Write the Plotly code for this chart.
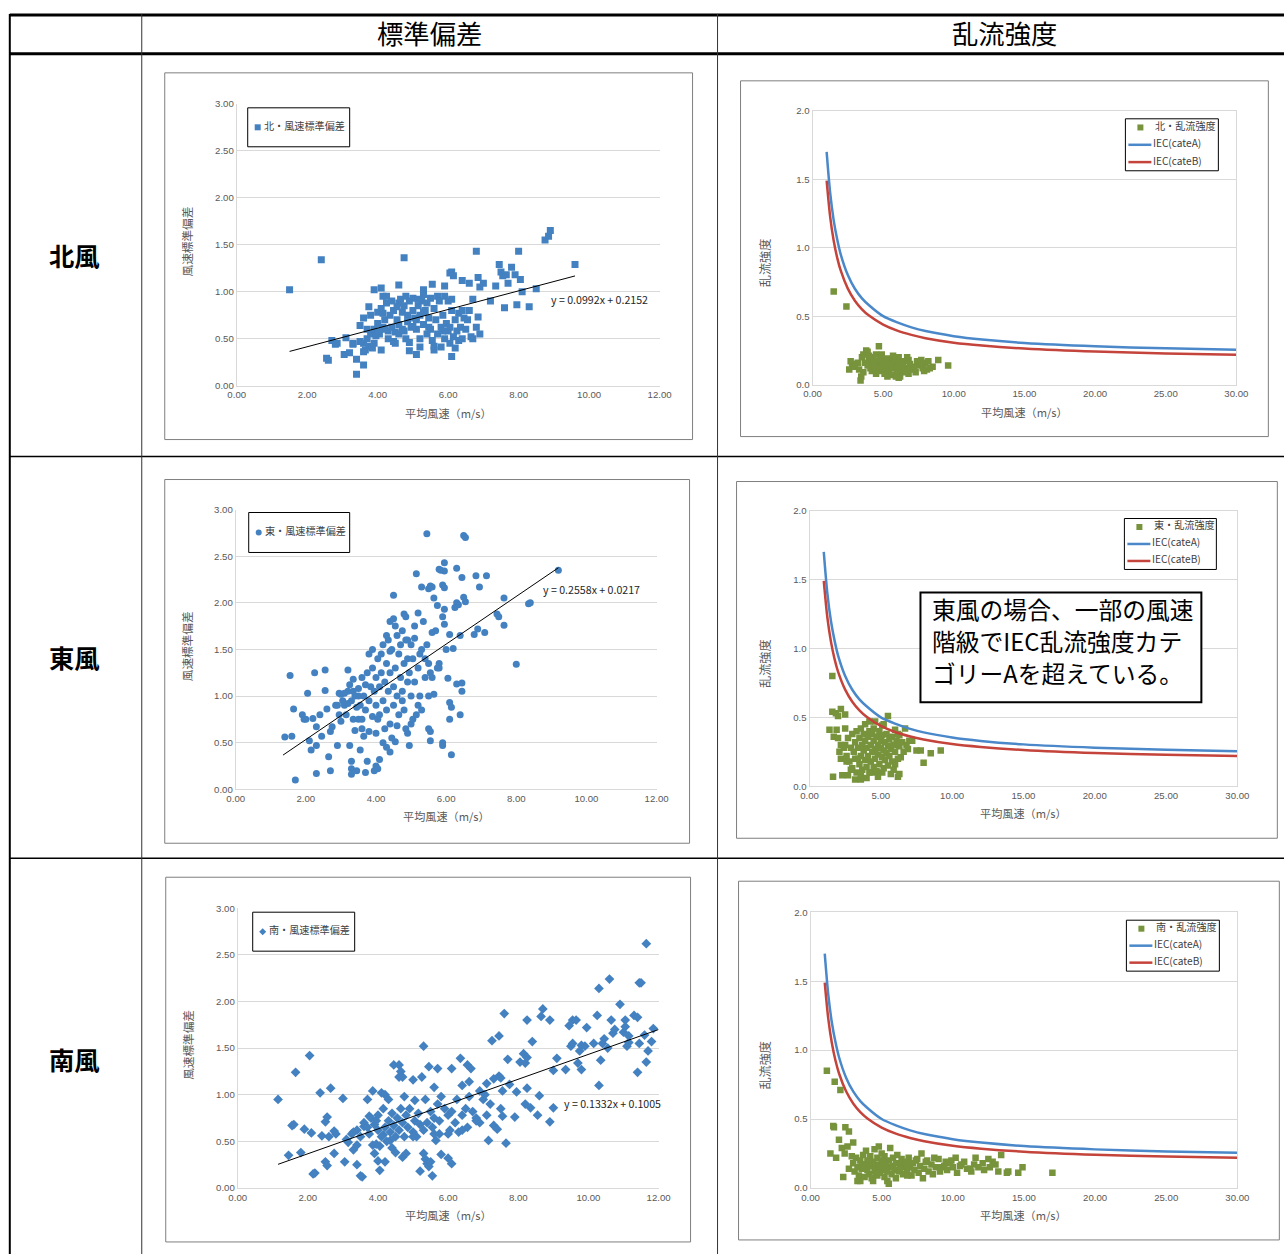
import plotly.graph_objects as go

W, H = 1284, 1254
FONT = "Noto Sans CJK JP"

# ---------------- data ----------------
headers = ["標準偏差", "乱流強度"]
row_labels = ["北風", "東風", "南風"]
sd_names = ["北・風速標準偏差", "東・風速標準偏差", "南・風速標準偏差"]
ti_names = ["北・乱流強度", "東・乱流強度", "南・乱流強度"]
iec_names = ["IEC(cateA)", "IEC(cateB)"]
x_title = "平均風速（m/s）"
sd_ytitle = "風速標準偏差"
ti_ytitle = "乱流強度"

trend_slope = [0.0992, 0.2558, 0.1332]
trend_icpt = [0.2152, 0.0217, 0.1005]
trend_x = [[1.5, 9.6], [1.35, 9.2], [1.15, 12.0]]
trend_text = ["y = 0.0992x + 0.2152", "y = 0.2558x + 0.0217", "y = 0.1332x + 0.1005"]

note_lines = ["東風の場合、一部の風速", "階級でIEC乱流強度カテ", "ゴリーAを超えている。"]

north_sd = [
    [1.5, 1.02], [2.4, 1.34], [2.55, 0.29], [2.6, 0.27], [2.7, 0.48], [2.8, 0.44], [2.85, 0.45],
    [3.1, 0.51], [3.05, 0.33], [3.2, 0.35], [3.3, 0.44], [3.4, 0.12], [3.4, 0.28], [3.5, 0.64],
    [3.6, 0.22], [3.6, 0.72], [3.75, 0.84], [3.8, 0.75], [3.9, 1.02], [4.1, 1.04], [4.15, 0.95],
    [4.6, 1.07], [4.75, 1.36], [5.3, 1.02], [5.55, 1.08], [5.9, 1.06], [6.05, 1.2], [6.1, 1.21],
    [6.15, 1.17], [6.4, 1.12], [6.6, 1.09], [6.8, 1.43], [6.85, 1.15], [6.9, 1.05], [7.0, 1.09],
    [7.2, 0.9], [7.35, 1.06], [7.45, 1.29], [7.5, 1.21], [7.55, 1.17], [7.65, 1.18], [7.7, 1.09],
    [7.8, 1.26], [7.9, 1.18], [7.95, 0.86], [8.0, 1.43], [8.05, 1.13], [8.1, 1.0], [8.3, 0.84],
    [8.5, 1.03], [8.75, 1.55], [8.85, 1.59], [8.9, 1.65], [9.6, 1.29], [7.6, 0.83], [6.9, 0.55],
    [6.8, 0.62], [6.85, 0.73], [5.1, 0.33], [4.9, 0.37], [6.1, 0.31], [5.6, 0.38], [5.8, 0.41],
    [5.2, 0.41], [3.6, 0.45], [3.7, 0.5], [3.65, 0.38], [3.75, 0.42], [3.8, 0.55], [3.85, 0.4],
    [3.9, 0.6], [3.95, 0.53], [4.0, 0.66], [4.0, 0.78], [4.05, 0.55], [4.1, 0.82], [4.15, 0.62],
    [4.2, 0.7], [4.25, 0.88], [4.3, 0.58], [4.35, 0.75], [4.4, 0.9], [4.4, 0.62], [4.45, 0.8],
    [4.5, 0.57], [4.5, 0.45], [4.55, 0.7], [4.6, 0.88], [4.6, 0.55], [4.65, 0.92], [4.7, 0.78],
    [4.7, 0.6], [4.75, 0.85], [4.8, 0.5], [4.8, 0.95], [4.85, 0.68], [4.9, 0.9], [4.95, 0.62],
    [5.0, 0.8], [5.0, 0.93], [5.05, 0.72], [5.1, 0.6], [5.15, 0.85], [5.2, 0.75], [5.2, 0.5],
    [5.25, 0.9], [5.3, 0.97], [5.3, 0.65], [5.35, 0.8], [5.4, 0.55], [5.4, 0.88], [5.45, 0.72],
    [5.5, 0.93], [5.5, 0.6], [5.55, 0.48], [5.6, 0.82], [5.65, 0.7], [5.7, 0.95], [5.7, 0.55],
    [5.75, 0.9], [5.8, 0.62], [5.85, 0.75], [5.9, 0.95], [5.9, 0.5], [5.95, 0.66], [6.0, 0.9],
    [6.0, 0.58], [6.05, 0.45], [6.1, 0.92], [6.1, 0.8], [6.15, 0.52], [6.2, 0.7], [6.2, 0.4],
    [6.25, 0.58], [6.3, 0.48], [6.35, 0.62], [6.4, 0.8], [6.4, 0.5], [6.45, 0.72], [6.5, 0.6],
    [6.55, 0.7], [6.6, 0.8], [6.65, 0.52], [6.7, 0.92], [6.7, 0.5], [4.2, 0.6], [4.3, 0.5],
    [3.9, 0.45], [4.1, 0.38], [4.45, 0.47], [4.9, 0.46], [5.6, 0.42], [4.0, 0.58], [4.6, 0.65],
    [5.1, 0.7], [5.3, 0.78], [4.25, 0.95], [3.7, 0.6], [3.5, 0.47], [3.3, 0.45], [3.6, 0.36],
    [4.75, 0.58], [5.0, 0.63], [5.45, 0.62], [6.05, 0.62], [5.85, 0.58], [6.3, 0.77], [4.85, 0.75],
    [4.15, 0.77], [4.55, 0.84], [5.15, 0.92],
]

east_sd = [
    [1.55, 1.22], [1.4, 0.56], [1.6, 0.57], [1.65, 0.86], [1.7, 0.1], [1.9, 0.8], [1.95, 0.75],
    [2.05, 1.03], [2.0, 0.75], [2.1, 0.52], [2.15, 0.42], [2.2, 0.76], [2.25, 1.25], [2.3, 0.47],
    [2.3, 0.17], [2.3, 0.67], [2.4, 0.8], [2.45, 0.57], [2.55, 1.28], [2.55, 1.06], [2.6, 0.86],
    [2.65, 0.35], [2.7, 0.62], [2.7, 0.2], [2.75, 0.67], [2.85, 0.9], [2.9, 0.47], [2.95, 0.8],
    [3.0, 1.02], [3.0, 0.73], [3.1, 0.9], [3.2, 1.28], [3.25, 0.47], [3.3, 0.3], [3.3, 0.22],
    [3.3, 0.16], [3.35, 1.18], [3.4, 0.63], [3.45, 0.2], [3.5, 0.75], [3.55, 0.42], [3.6, 0.65],
    [3.65, 0.57], [3.7, 0.18], [3.75, 0.3], [3.8, 1.45], [3.9, 1.5], [3.95, 0.2], [4.0, 0.25],
    [4.05, 0.22], [4.1, 0.32], [4.2, 0.5], [4.3, 0.45], [4.4, 0.4], [4.5, 2.08], [4.55, 0.51],
    [4.4, 1.8], [4.5, 1.83], [4.8, 1.88], [4.85, 1.85], [4.9, 0.6], [4.95, 0.47], [5.0, 0.7],
    [5.15, 2.31], [5.2, 1.89], [5.3, 2.17], [5.45, 2.74], [5.5, 2.15], [5.55, 2.18], [5.6, 2.17],
    [5.65, 2.05], [5.75, 1.97], [5.8, 2.36], [5.85, 2.35], [5.9, 2.19], [5.95, 2.34], [5.95, 2.16],
    [5.95, 2.43], [5.9, 1.85], [5.95, 1.93], [5.95, 1.77], [6.0, 1.5], [6.05, 1.19], [6.1, 1.66],
    [6.2, 1.51], [6.3, 2.37], [6.25, 1.95], [6.3, 2.0], [6.35, 1.98], [6.4, 1.65], [6.45, 2.27],
    [6.5, 2.72], [6.55, 2.7], [6.5, 2.06], [6.55, 2.01], [6.3, 1.13], [6.45, 1.14], [6.45, 1.05],
    [6.4, 0.8], [6.1, 0.93], [6.15, 0.88], [6.1, 0.75], [6.15, 0.37], [5.9, 0.5], [5.9, 0.47],
    [5.55, 0.52], [5.5, 0.65], [5.55, 0.62], [6.85, 2.29], [6.8, 1.66], [6.9, 1.72], [6.95, 2.17],
    [7.1, 1.68], [7.15, 2.29], [7.45, 1.88], [7.5, 1.85], [7.65, 2.05], [7.65, 1.76], [8.0, 1.34],
    [8.35, 1.99], [8.4, 2.0], [9.2, 2.35],
    [3.2, 1.05], [3.3, 0.95], [3.4, 1.0], [3.5, 1.08], [3.55, 0.9], [3.6, 1.2], [3.65, 1.0],
    [3.7, 1.12], [3.7, 0.85], [3.75, 1.25], [3.8, 0.95], [3.85, 1.1], [3.9, 0.78], [3.9, 1.3],
    [3.95, 1.05], [4.0, 1.2], [4.0, 0.9], [4.05, 1.4], [4.1, 1.1], [4.1, 0.8], [4.15, 1.25],
    [4.2, 1.55], [4.2, 0.95], [4.25, 1.15], [4.3, 1.35], [4.3, 0.85], [4.35, 1.6], [4.35, 1.05],
    [4.4, 1.25], [4.4, 0.7], [4.45, 1.5], [4.5, 1.1], [4.5, 0.9], [4.55, 1.3], [4.6, 1.65],
    [4.6, 1.0], [4.65, 1.45], [4.65, 0.8], [4.7, 1.2], [4.7, 1.55], [4.75, 1.05], [4.75, 1.7],
    [4.8, 1.35], [4.8, 0.85], [4.85, 1.6], [4.9, 1.15], [4.9, 1.4], [4.95, 1.25], [5.0, 1.55],
    [5.0, 1.0], [5.05, 1.4], [5.1, 1.15], [5.1, 1.75], [5.15, 0.8], [5.2, 1.3], [5.25, 1.0],
    [5.3, 1.5], [5.3, 0.85], [5.35, 1.8], [5.4, 1.2], [5.45, 1.55], [5.5, 1.35], [5.5, 1.0],
    [5.55, 1.25], [5.6, 1.68], [5.65, 1.02], [5.7, 1.7], [5.8, 1.35], [5.8, 1.3], [3.2, 0.92],
    [3.35, 1.05], [3.45, 0.88], [3.6, 0.75], [3.8, 0.62], [4.0, 0.6], [4.05, 0.75], [4.25, 0.65],
    [4.45, 0.55], [4.6, 0.68], [4.75, 0.95], [4.85, 0.65], [5.05, 0.75], [5.2, 0.9], [3.1, 1.03],
    [2.95, 1.03], [3.05, 0.95], [2.9, 0.9], [3.15, 0.8], [3.35, 0.75], [3.25, 1.12], [3.5, 1.0],
    [4.15, 1.45], [4.3, 1.65], [4.55, 1.75], [4.4, 1.48], [4.9, 1.6], [5.1, 1.62], [5.25, 1.45],
    [5.4, 1.4], [5.6, 1.2], [5.75, 1.3],
]

south_sd = [
    [1.15, 0.95], [1.45, 0.35], [1.55, 0.67], [1.6, 0.68], [1.65, 1.24], [1.8, 0.38], [1.9, 0.63],
    [2.05, 1.42], [2.1, 0.59], [2.15, 0.15], [2.2, 0.16], [2.35, 1.02], [2.4, 0.56], [2.5, 0.71],
    [2.55, 0.76], [2.5, 0.28], [2.55, 0.24], [2.6, 0.55], [2.65, 1.07], [2.75, 0.61], [2.8, 0.58],
    [2.75, 0.37], [3.0, 0.96], [3.05, 0.28], [3.1, 0.52], [3.15, 0.49], [3.25, 0.58], [3.3, 0.41],
    [3.4, 0.62], [3.4, 0.46], [3.4, 0.25], [3.5, 0.13], [3.55, 0.12], [3.6, 0.66], [3.7, 0.95],
    [3.75, 0.77], [3.85, 1.04], [3.85, 0.46], [3.9, 0.37], [3.95, 0.47], [4.0, 0.29], [4.05, 0.19],
    [4.1, 1.02], [4.15, 0.57], [4.2, 1.0], [4.2, 0.28], [4.3, 0.95], [4.35, 0.51], [4.45, 1.32],
    [4.5, 0.38], [4.6, 1.19], [4.6, 1.32], [4.65, 1.25], [4.7, 1.19], [4.7, 0.33], [4.75, 0.98],
    [4.8, 0.37], [5.0, 1.16], [5.05, 0.94], [5.2, 0.18], [5.25, 1.19], [5.3, 0.37], [5.3, 1.52],
    [5.35, 0.31], [5.4, 0.26], [5.45, 1.3], [5.45, 0.23], [5.5, 0.28], [5.55, 0.13], [5.6, 1.08],
    [5.65, 0.51], [5.7, 1.28], [5.75, 0.58], [5.8, 0.36], [6.0, 0.32], [6.1, 1.28], [6.1, 0.26],
    [6.35, 1.39], [6.4, 1.1], [6.55, 1.32], [6.6, 1.14], [6.65, 1.28], [6.9, 1.04], [7.1, 1.12],
    [7.15, 0.51], [7.25, 1.58], [7.3, 1.17], [7.45, 1.63], [7.45, 1.2], [7.5, 1.18], [7.55, 1.04],
    [7.55, 0.77], [7.6, 1.87], [7.65, 0.48], [7.7, 1.38], [7.75, 1.11], [7.95, 1.03], [7.9, 0.76],
    [8.05, 1.35], [8.15, 1.44], [8.2, 1.34], [8.25, 1.4], [8.25, 1.8], [8.2, 0.9], [8.25, 1.07],
    [8.35, 0.86], [8.4, 1.57], [8.55, 0.78], [8.6, 0.99], [8.65, 1.84], [8.7, 1.92], [8.9, 1.8],
    [8.9, 0.71], [9.0, 0.86], [9.0, 1.26], [9.1, 1.39], [9.35, 1.27], [9.45, 1.74], [9.5, 1.52],
    [9.55, 1.55], [9.55, 1.8], [9.65, 1.8], [9.7, 1.34], [9.75, 1.47], [9.8, 1.27], [9.8, 1.53],
    [9.9, 1.52], [9.95, 1.72], [10.15, 1.55], [10.25, 1.85], [10.3, 2.14], [10.3, 1.1], [10.35, 1.37],
    [10.4, 1.55], [10.45, 1.6], [10.55, 1.5], [10.6, 2.24], [10.65, 1.8], [10.7, 1.66], [10.75, 1.7],
    [10.9, 1.97], [11.0, 1.67], [11.05, 1.73], [11.05, 1.8], [11.1, 1.52], [11.15, 1.56], [11.15, 1.63],
    [11.3, 1.85], [11.4, 1.83], [11.4, 1.24], [11.45, 2.2], [11.45, 1.55], [11.5, 2.2], [11.6, 1.64],
    [11.65, 2.62], [11.7, 1.47], [11.65, 1.35], [11.8, 1.57], [11.85, 1.71],
    [3.6, 0.7], [3.7, 0.65], [3.8, 0.75], [3.9, 0.68], [3.95, 0.72], [4.0, 0.62], [4.0, 0.78],
    [4.1, 0.55], [4.15, 0.85], [4.2, 0.65], [4.25, 0.5], [4.3, 0.72], [4.35, 0.6], [4.4, 0.8],
    [4.45, 0.67], [4.5, 0.55], [4.55, 0.75], [4.6, 0.62], [4.65, 0.85], [4.7, 0.7], [4.75, 0.55],
    [4.8, 0.78], [4.85, 0.65], [4.9, 0.85], [5.0, 0.6], [5.05, 0.72], [5.1, 0.55], [5.15, 0.8],
    [5.2, 0.68], [5.3, 0.62], [5.35, 0.95], [5.4, 0.7], [5.5, 0.82], [5.55, 0.65], [5.6, 0.75],
    [5.7, 0.9], [5.75, 0.72], [5.8, 0.98], [5.9, 0.85], [6.0, 0.78], [6.05, 0.62], [6.1, 0.82],
    [6.2, 0.7], [6.25, 0.95], [6.3, 0.6], [6.4, 0.78], [6.5, 0.85], [6.55, 0.65], [6.6, 0.98],
    [6.7, 0.82], [6.8, 0.75], [6.9, 0.7], [7.0, 0.95], [7.05, 1.0], [7.1, 0.78], [7.2, 0.9],
    [7.3, 0.67], [7.4, 0.63], [7.5, 0.85], [3.3, 0.6], [3.5, 0.55], [3.75, 0.58], [4.05, 0.45],
    [4.4, 0.43], [5.0, 0.55], [5.6, 0.58], [6.0, 0.58], [6.4, 0.62], [6.8, 0.72],
]

north_ti = [
    [1.5, 0.68], [2.4, 0.57], [2.6, 0.11], [2.7, 0.17], [2.8, 0.15], [3.0, 0.13], [3.2, 0.16],
    [3.4, 0.03], [3.5, 0.2], [3.6, 0.22], [3.8, 0.25], [3.9, 0.24], [4.0, 0.18], [4.1, 0.12],
    [4.2, 0.15], [4.3, 0.2], [4.4, 0.13], [4.5, 0.22], [4.6, 0.16], [4.7, 0.28], [4.8, 0.1],
    [4.9, 0.14], [5.0, 0.18], [5.1, 0.08], [5.2, 0.13], [5.3, 0.19], [5.4, 0.1], [5.5, 0.16],
    [5.6, 0.07], [5.7, 0.19], [5.8, 0.12], [5.9, 0.15], [6.0, 0.09], [6.1, 0.2], [6.2, 0.06],
    [6.3, 0.14], [6.4, 0.1], [6.5, 0.17], [6.6, 0.12], [6.7, 0.2], [6.8, 0.08], [6.9, 0.15],
    [7.0, 0.11], [7.2, 0.13], [7.4, 0.17], [7.6, 0.14], [7.8, 0.12], [8.0, 0.16], [8.1, 0.11],
    [8.3, 0.12], [8.5, 0.13], [8.9, 0.18], [9.6, 0.14], [3.7, 0.16], [3.9, 0.14], [4.0, 0.21],
    [4.2, 0.1], [4.4, 0.17], [4.6, 0.12], [4.8, 0.19], [5.0, 0.12], [5.2, 0.17], [5.4, 0.14],
    [5.6, 0.12], [5.8, 0.16], [6.0, 0.13], [6.2, 0.16], [6.4, 0.13], [6.6, 0.09], [3.3, 0.11],
    [3.6, 0.09], [4.5, 0.08], [5.3, 0.06], [6.1, 0.05], [5.9, 0.06], [4.3, 0.13], [4.9, 0.22],
    [5.7, 0.21], [6.8, 0.18], [7.3, 0.09], [7.7, 0.18], [3.45, 0.06], [7.9, 0.1], [8.2, 0.17],
]

east_ti = [
    [1.6, 0.8], [1.6, 0.54], [1.85, 0.53], [2.0, 0.51], [2.2, 0.56], [2.5, 0.52], [2.5, 0.42],
    [1.4, 0.41], [1.9, 0.41], [1.7, 0.36], [2.1, 0.25], [2.2, 0.2], [1.65, 0.07], [2.3, 0.08],
    [2.7, 0.08], [3.2, 0.05], [3.6, 0.05], [4.0, 0.06], [4.6, 0.47], [5.5, 0.51], [5.2, 0.45],
    [6.7, 0.42], [7.2, 0.33], [7.5, 0.26], [7.8, 0.26], [8.0, 0.17], [8.5, 0.24], [9.2, 0.26],
    [6.2, 0.07], [5.1, 0.1], [4.4, 0.1], [6.0, 0.16], [6.4, 0.21],
    [2.5, 0.3], [2.6, 0.22], [2.7, 0.35], [2.8, 0.18], [2.9, 0.28], [3.0, 0.38], [3.0, 0.13],
    [3.1, 0.25], [3.2, 0.32], [3.2, 0.2], [3.3, 0.4], [3.3, 0.1], [3.4, 0.28], [3.5, 0.35],
    [3.5, 0.16], [3.6, 0.22], [3.6, 0.42], [3.7, 0.3], [3.7, 0.12], [3.8, 0.26], [3.8, 0.38],
    [3.9, 0.19], [3.9, 0.33], [4.0, 0.28], [4.0, 0.14], [4.1, 0.36], [4.1, 0.22], [4.2, 0.4],
    [4.2, 0.1], [4.3, 0.3], [4.3, 0.18], [4.4, 0.25], [4.4, 0.38], [4.5, 0.33], [4.5, 0.14],
    [4.6, 0.27], [4.6, 0.2], [4.7, 0.36], [4.7, 0.11], [4.8, 0.3], [4.8, 0.23], [4.9, 0.4],
    [4.9, 0.16], [5.0, 0.28], [5.0, 0.33], [5.1, 0.21], [5.1, 0.37], [5.2, 0.26], [5.2, 0.13],
    [5.3, 0.32], [5.3, 0.19], [5.4, 0.38], [5.4, 0.24], [5.5, 0.29], [5.5, 0.15], [5.6, 0.34],
    [5.6, 0.22], [5.7, 0.27], [5.8, 0.36], [5.8, 0.18], [5.9, 0.3], [6.0, 0.25], [6.0, 0.41],
    [6.1, 0.33], [6.2, 0.2], [6.3, 0.29], [6.3, 0.37], [6.5, 0.32], [6.6, 0.25], [6.8, 0.3],
    [7.0, 0.33], [6.9, 0.27], [4.2, 0.47], [3.6, 0.08], [4.8, 0.07], [5.7, 0.09], [5.9, 0.12],
    [6.3, 0.09], [2.9, 0.12], [2.4, 0.28], [2.2, 0.3], [2.0, 0.35], [2.6, 0.18], [3.4, 0.2],
    [4.5, 0.42], [5.1, 0.44], [3.9, 0.45], [6.2, 0.38],
]

south_ti = [
    [1.15, 0.85], [1.7, 0.77], [2.1, 0.71], [1.6, 0.45], [1.65, 0.44], [2.45, 0.44], [2.7, 0.41],
    [2.0, 0.35], [1.4, 0.25], [1.8, 0.22], [2.2, 0.29], [2.6, 0.3], [3.0, 0.33], [2.4, 0.25],
    [2.9, 0.23], [2.3, 0.08], [2.7, 0.14], [17.0, 0.11], [14.9, 0.15], [14.6, 0.11], [13.8, 0.11],
    [13.9, 0.12], [13.4, 0.24], [12.8, 0.19], [12.5, 0.21], [12.1, 0.18], [11.6, 0.22], [11.2, 0.14],
    [10.6, 0.17], [10.2, 0.22], [9.9, 0.2], [9.5, 0.19], [9.2, 0.15], [8.7, 0.22], [8.2, 0.2],
    [7.8, 0.25], [7.5, 0.21], [6.8, 0.18],
    [3.0, 0.18], [3.1, 0.12], [3.2, 0.22], [3.3, 0.15], [3.4, 0.09], [3.5, 0.2], [3.5, 0.05],
    [3.6, 0.14], [3.7, 0.24], [3.8, 0.17], [3.8, 0.08], [3.9, 0.27], [4.0, 0.13], [4.0, 0.2],
    [4.1, 0.1], [4.2, 0.23], [4.2, 0.16], [4.3, 0.07], [4.4, 0.19], [4.5, 0.12], [4.5, 0.28],
    [4.6, 0.15], [4.7, 0.22], [4.7, 0.09], [4.8, 0.3], [4.8, 0.17], [4.9, 0.11], [5.0, 0.2],
    [5.0, 0.25], [5.1, 0.14], [5.2, 0.08], [5.2, 0.23], [5.3, 0.17], [5.4, 0.12], [5.4, 0.05],
    [5.5, 0.2], [5.6, 0.29], [5.6, 0.15], [5.7, 0.1], [5.8, 0.22], [5.9, 0.13], [6.0, 0.18],
    [6.0, 0.07], [6.1, 0.24], [6.2, 0.12], [6.3, 0.17], [6.4, 0.21], [6.5, 0.1], [6.6, 0.15],
    [6.7, 0.19], [6.8, 0.12], [6.9, 0.22], [7.0, 0.15], [7.1, 0.09], [7.2, 0.18], [7.3, 0.13],
    [7.4, 0.2], [7.6, 0.11], [7.7, 0.16], [7.9, 0.07], [8.0, 0.14], [8.1, 0.19], [8.3, 0.12],
    [8.5, 0.17], [8.6, 0.1], [8.8, 0.15], [9.0, 0.21], [9.1, 0.12], [9.4, 0.16], [9.6, 0.13],
    [9.8, 0.18], [10.0, 0.15], [10.3, 0.11], [10.5, 0.16], [10.8, 0.19], [11.0, 0.14], [11.3, 0.12],
    [11.5, 0.17], [11.8, 0.15], [12.2, 0.13], [12.6, 0.15], [13.0, 0.17], [13.2, 0.12], [3.3, 0.05],
    [5.5, 0.03], [4.4, 0.05], [6.8, 0.09], [3.6, 0.17], [4.1, 0.18], [4.9, 0.15], [5.3, 0.13],
    [5.8, 0.16], [6.3, 0.14], [3.9, 0.16], [4.6, 0.11], [5.1, 0.19],
]

iec_ws = [1.0, 1.25, 1.5, 1.75, 2.0, 2.5, 3.0, 3.5, 4.0, 5.0, 6.0, 7.0, 8.0, 10.0, 12.0, 15.0, 20.0, 25.0, 30.0]
iec_a = [1.70, 1.40, 1.20, 1.06, 0.95, 0.80, 0.70, 0.63, 0.58, 0.50, 0.454, 0.418, 0.391, 0.354, 0.329, 0.304, 0.280, 0.265, 0.255]
iec_b = [1.49, 1.226, 1.051, 0.926, 0.832, 0.701, 0.613, 0.55, 0.504, 0.438, 0.394, 0.363, 0.339, 0.306, 0.285, 0.263, 0.241, 0.228, 0.219]

sd_sets = [north_sd, east_sd, south_sd]
ti_sets = [north_ti, east_ti, south_ti]
sd_symbols = ["square", "circle", "diamond"]
sd_sizes = [7, 7, 7.5]

# ---------------- styling / geometry ----------------
BLUE = "#4381c1"
GREEN = "#77933c"
LBLUE = "#4a88c9"
LRED = "#c4433b"
GRID = "#d9d9d9"
TXT = "#595959"

# the rendered paper area sits slightly inset; place marks so they land on the target pixels
AX, BX, AY, BY = 0.984, 9.2, 0.992, 4.1
FS = 1 / 0.988

def px(x):
    return (x - BX) / AX / W

def py(y):
    return 1 - (y - BY) / AY / H

def fs(s):
    return round(s * FS, 2)

sd_areas = [(237, 660, 102, 384), (236, 657, 508, 788), (238, 659, 907, 1187)]
ti_areas = [(813, 1237, 109, 383), (810, 1238, 509, 785), (811, 1238, 911, 1187)]
sd_boxes = [(165, 693, 71, 438), (165, 690, 478, 842), (166, 691, 876, 1241)]
ti_boxes = [(741, 1269, 79, 435), (737, 1278, 480, 837), (739, 1280, 880, 1239)]
sd_leg = [(248, 350, 106, 145), (249, 350, 511, 551), (253, 355, 911, 950)]
ti_leg = [(1126, 1219, 117, 169), (1125, 1217, 517, 568), (1127, 1220, 919, 970)]
trend_lbl = [(549, 300), (541, 590), (562, 1104)]

fig = go.Figure()
layout = dict()
shapes = []
annotations = []

def add_text(x, y, text, size, color="#000000", xanchor="center", angle=0, bold=False):
    t = f"<b>{text}</b>" if bold else text
    dy = 0 if angle else (3.5 if size >= 20 else 2)
    annotations.append(dict(x=px(x), y=py(y - dy), xref="paper", yref="paper", text=t, showarrow=False,
                            xanchor=xanchor, yanchor="middle", textangle=angle,
                            font=dict(family=FONT, size=fs(size), color=color)))

def rect(x0, x1, y0, y1, color="#000000", width=1, fill=None):
    d = dict(type="rect", xref="paper", yref="paper", x0=px(x0), x1=px(x1), y0=py(y1), y1=py(y0),
             line=dict(color=color, width=width), layer="above")
    if fill:
        d["fillcolor"] = fill
    shapes.append(d)

def hline(x0, x1, y, color="#000000", width=1):
    shapes.append(dict(type="line", xref="paper", yref="paper", x0=px(x0), x1=px(x1), y0=py(y), y1=py(y),
                       line=dict(color=color, width=width), layer="above"))

def vline(x, y0, y1, color="#000000", width=1):
    shapes.append(dict(type="line", xref="paper", yref="paper", x0=px(x), x1=px(x), y0=py(y0), y1=py(y1),
                       line=dict(color=color, width=width), layer="above"))

def axis_style(dom, rng, dtick, fmt, mirror, showgrid, anchor):
    return dict(domain=dom, range=rng, dtick=dtick, tick0=0, tickformat=fmt, showgrid=showgrid,
                gridcolor=GRID, gridwidth=1, zeroline=False, showline=True, linecolor=GRID, linewidth=1,
                mirror=mirror, ticks="", tickfont=dict(family="Liberation Sans", size=fs(9.5), color=TXT),
                anchor=anchor, fixedrange=True)

for i in range(3):
    n = 2 * i + 1
    xa = f"x{n}" if n > 1 else "x"
    ya = f"y{n}" if n > 1 else "y"
    x0, x1, yt, yb = sd_areas[i]
    layout[f"xaxis{n}"] = axis_style([px(x0), px(x1)], [0, 12], 2, ".2f", False, False, ya)
    layout[f"yaxis{n}"] = axis_style([py(yb), py(yt)], [0, 3], 0.5, ".2f", False, True, xa)
    pts = sd_sets[i]
    fig.add_trace(go.Scatter(x=[p[0] for p in pts], y=[p[1] for p in pts], mode="markers",
                             name=sd_names[i], xaxis=xa, yaxis=ya,
                             marker=dict(symbol=sd_symbols[i], size=sd_sizes[i], color=BLUE,
                                         line=dict(width=0))))
    tx = trend_x[i]
    fig.add_trace(go.Scatter(x=tx, y=[trend_slope[i] * v + trend_icpt[i] for v in tx], mode="lines",
                             xaxis=xa, yaxis=ya, line=dict(color="#000000", width=1), showlegend=False))
    bx0, bx1, by0, by1 = sd_boxes[i]
    rect(bx0, bx1, by0, by1, color="#7f7f7f", width=1)
    add_text((x0 + x1) / 2, yb + 29, x_title, 11, TXT)
    add_text(187, (yt + yb) / 2 - 3, sd_ytitle, 11.5, TXT, angle=-90)
    lx, ly = trend_lbl[i]
    add_text(lx, ly, trend_text[i], 10.5, "#262626", xanchor="left")
    l0, l1, lt, lb = sd_leg[i]
    rect(l0, l1, lt, lb, color="#000000", width=1)
    cy = (lt + lb) / 2
    mx = l0 + 10
    if sd_symbols[i] == "square":
        shapes.append(dict(type="rect", xref="paper", yref="paper", x0=px(mx - 3), x1=px(mx + 3),
                           y0=py(cy + 3), y1=py(cy - 3), line=dict(width=0), fillcolor=BLUE))
    elif sd_symbols[i] == "circle":
        shapes.append(dict(type="circle", xref="paper", yref="paper", x0=px(mx - 3), x1=px(mx + 3),
                           y0=py(cy + 3), y1=py(cy - 3), line=dict(width=0), fillcolor=BLUE))
    else:
        path = (f"M {px(mx)} {py(cy - 3.5)} L {px(mx + 3.5)} {py(cy)} L {px(mx)} {py(cy + 3.5)} "
                f"L {px(mx - 3.5)} {py(cy)} Z")
        shapes.append(dict(type="path", xref="paper", yref="paper", path=path, line=dict(width=0),
                           fillcolor=BLUE))
    add_text(mx + 4, cy, sd_names[i], 10, "#404040", xanchor="left")

    n = 2 * i + 2
    xa = f"x{n}"
    ya = f"y{n}"
    x0, x1, yt, yb = ti_areas[i]
    layout[f"xaxis{n}"] = axis_style([px(x0), px(x1)], [0, 30], 5, ".2f", True, False, ya)
    layout[f"yaxis{n}"] = axis_style([py(yb), py(yt)], [0, 2], 0.5, ".1f", True, True, xa)
    pts = ti_sets[i]
    fig.add_trace(go.Scatter(x=[p[0] for p in pts], y=[p[1] for p in pts], mode="markers",
                             name=ti_names[i], xaxis=xa, yaxis=ya,
                             marker=dict(symbol="square", size=6.5, color=GREEN, line=dict(width=0))))
    fig.add_trace(go.Scatter(x=iec_ws, y=iec_a, mode="lines", name=iec_names[0], xaxis=xa, yaxis=ya,
                             line=dict(color=LBLUE, width=2.5, shape="spline", smoothing=0.8)))
    fig.add_trace(go.Scatter(x=iec_ws, y=iec_b, mode="lines", name=iec_names[1], xaxis=xa, yaxis=ya,
                             line=dict(color=LRED, width=2.5, shape="spline", smoothing=0.8)))
    bx0, bx1, by0, by1 = ti_boxes[i]
    rect(bx0, bx1, by0, by1, color="#7f7f7f", width=1)
    add_text((x0 + x1) / 2, yb + 29, x_title, 11, TXT)
    add_text(765, (yt + yb) / 2 + 15, ti_ytitle, 12, TXT, angle=-90)
    l0, l1, lt, lb = ti_leg[i]
    rect(l0, l1, lt, lb, color="#000000", width=1)
    step = (lb - lt) / 3
    r1 = lt + step * 0.5
    r2 = lt + step * 1.5
    r3 = lt + step * 2.5
    mx = l0 + 15
    shapes.append(dict(type="rect", xref="paper", yref="paper", x0=px(mx - 3), x1=px(mx + 3),
                       y0=py(r1 + 3), y1=py(r1 - 3), line=dict(width=0), fillcolor=GREEN))
    add_text(l0 + 28, r1, ti_names[i], 10, "#404040", xanchor="left")
    hline(l0 + 3, l0 + 26, r2, LBLUE, 2.5)
    hline(l0 + 3, l0 + 26, r3, LRED, 2.5)
    add_text(l0 + 26, r2, iec_names[0], 10, "#404040", xanchor="left")
    add_text(l0 + 26, r3, iec_names[1], 10, "#404040", xanchor="left")

rect(921, 1202, 591, 701, color="#000000", width=2, fill="#ffffff")
for k, line in enumerate(note_lines):
    add_text(931, 611 + 32 * k, line, 23.5, "#000000", xanchor="left")

hline(10, 1300, 13, "#000000", 3)
hline(10, 1300, 52, "#000000", 3)
hline(10, 1300, 455, "#000000", 1.5)
hline(10, 1300, 857, "#000000", 1.5)
vline(10, 12, 1270, "#000000", 2)
vline(142, 12, 1270, "#333333", 1)
vline(718, 12, 1270, "#333333", 1)

add_text(430, 34, headers[0], 26, "#000000")
add_text(1005, 34, headers[1], 26, "#000000")
for i, lab in enumerate(row_labels):
    add_text(75, 257 + 402 * i, lab, 25, "#000000", bold=True)

fig.update_layout(width=W, height=H, margin=dict(l=0, r=0, t=0, b=0), showlegend=False,
                  paper_bgcolor="#ffffff", plot_bgcolor="rgba(0,0,0,0)",
                  shapes=shapes, annotations=annotations, **layout)

post = (
    "document.documentElement.style.margin='0';document.documentElement.style.overflow='hidden';"
    "document.body.style.margin='0';document.body.style.padding='0';document.body.style.overflow='hidden';"
)
fig.write_html("out.html", config={"displayModeBar": False}, post_script=post)
